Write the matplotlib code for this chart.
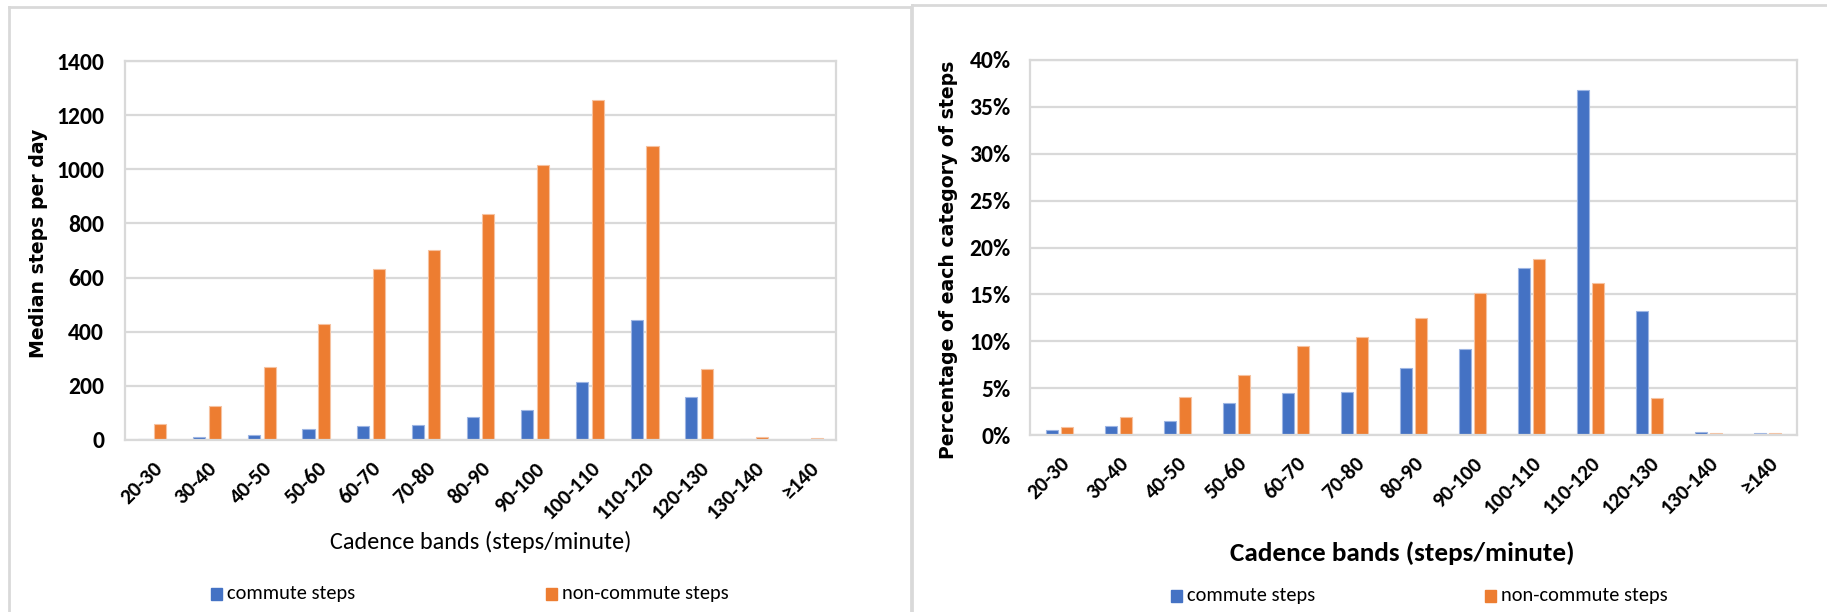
import matplotlib
matplotlib.use("Agg")
import matplotlib.pyplot as plt
from matplotlib.lines import Line2D
from matplotlib.patches import Rectangle
from matplotlib.ticker import FuncFormatter, MultipleLocator
import numpy as np

# Cadence bands (steps/minute)
bands = ["20-30", "30-40", "40-50", "50-60", "60-70", "70-80", "80-90",
         "90-100", "100-110", "110-120", "120-130", "130-140", "\u2265140"]

# Median steps per day in each cadence band
median_commute = [5, 12, 18, 40, 53, 56, 84, 111, 216, 445, 160, 4, 1]
median_noncommute = [58, 125, 271, 427, 633, 701, 833, 1014, 1257, 1086, 261, 12, 9]

# Share (%) of each category of steps falling in each cadence band
pct_commute = [0.5, 1.0, 1.45, 3.45, 4.45, 4.6, 7.1, 9.15, 17.8, 36.75, 13.25, 0.33, 0.25]
pct_noncommute = [0.87, 1.9, 4.07, 6.38, 9.52, 10.5, 12.5, 15.15, 18.75, 16.2, 3.95, 0.25, 0.25]

series_names = ["commute steps", "non-commute steps"]

BLUE = "#4472C4"
ORANGE = "#ED7D31"
BLUE_EDGE = "#9db5e3"
ORANGE_EDGE = "#f6c2a0"
GRID = "#d9d9d9"
FONT = "Carlito"
LABEL_FONT = "DejaVu Sans"

W, H = 1827, 612
fig = plt.figure(figsize=(W / 100, H / 100), dpi=100)
fig.patch.set_facecolor("white")


def px_axes(x0, y0, x1, y1):
    """Axes placed by pixel box (top-left origin)."""
    return fig.add_axes([x0 / W, 1 - y1 / H, (x1 - x0) / W, (y1 - y0) / H])


def style_axes(ax, ypad):
    ax.set_xlim(-0.5, len(bands) - 0.5)
    for s in ax.spines.values():
        s.set_color(GRID)
        s.set_linewidth(1.6)
    ax.grid(axis="y", color=GRID, linewidth=1.6)
    ax.set_axisbelow(True)
    ax.tick_params(axis="both", length=0)
    ax.tick_params(axis="y", pad=ypad)
    ax.tick_params(axis="x", pad=13)
    ax.set_xticks(np.arange(len(bands)))
    ax.set_xticklabels(bands, rotation=45, ha="right", va="top",
                       rotation_mode="anchor", fontfamily=FONT,
                       fontweight="bold", fontsize=15.5, color="black")
    for lab in ax.get_yticklabels():
        lab.set_fontfamily(FONT)
        lab.set_fontweight("bold")
        lab.set_fontsize(17)


def draw_bars(ax, a, b, width, off):
    x = np.arange(len(bands))
    ax.bar(x - off, a, width, color=BLUE, edgecolor=BLUE_EDGE, linewidth=0.8)
    ax.bar(x + off, b, width, color=ORANGE, edgecolor=ORANGE_EDGE, linewidth=0.8)


def legend_row(x_items, y, fs):
    for (xm, name, col) in zip(x_items, series_names, [BLUE, ORANGE]):
        fig.patches.append(Rectangle((xm / W, 1 - (y + 6) / H), 11 / W, 12 / H,
                                     transform=fig.transFigure, color=col))
        fig.text((xm + 16) / W, 1 - y / H, name, fontfamily=FONT, fontsize=fs,
                 va="center", ha="left", color="black")


# Panel frames
frame_kw = dict(color=GRID, linewidth=2, transform=fig.transFigure)
for xs, ys in [((9, 911), (7, 7)), ((9, 9), (7, 612)), ((911, 911), (7, 612)),
               ((912, 1827), (5, 5)), ((912, 912), (5, 612))]:
    fig.add_artist(Line2D([xs[0] / W, xs[1] / W], [1 - ys[0] / H, 1 - ys[1] / H], **frame_kw))

# Left: median steps per day
ax1 = px_axes(125, 61, 836, 440)
draw_bars(ax1, median_commute, median_noncommute, 0.22, 0.145)
ax1.set_ylim(0, 1400)
ax1.yaxis.set_major_locator(MultipleLocator(200))
style_axes(ax1, 15)
fig.text(39 / W, 1 - 243 / H, "Median steps per day", rotation=90, ha="center",
         va="center", fontfamily=LABEL_FONT, fontweight="bold", fontsize=13.6)
fig.text(481 / W, 1 - 542 / H, "Cadence bands (steps/minute)", ha="center",
         va="center", fontfamily=FONT, fontsize=17.5)
legend_row([211, 546], 594, 14.7)

# Right: percentage of each category of steps
ax2 = px_axes(1030, 60, 1797, 435)
draw_bars(ax2, pct_commute, pct_noncommute, 0.195, 0.126)
ax2.set_ylim(0, 40)
ax2.yaxis.set_major_locator(MultipleLocator(5))
ax2.yaxis.set_major_formatter(FuncFormatter(lambda v, p: f"{v:.0f}%"))
style_axes(ax2, 14)
fig.text(949 / W, 1 - 260 / H, "Percentage of each category of steps", rotation=90,
         ha="center", va="center", fontfamily=LABEL_FONT, fontweight="bold",
         fontsize=13.6)
fig.text(1402 / W, 1 - 553 / H, "Cadence bands (steps/minute)", ha="center",
         va="center", fontfamily=FONT, fontweight="bold", fontsize=19.5)
legend_row([1171, 1485], 596, 14.7)

fig.savefig("out.png", dpi=100, facecolor="white")
